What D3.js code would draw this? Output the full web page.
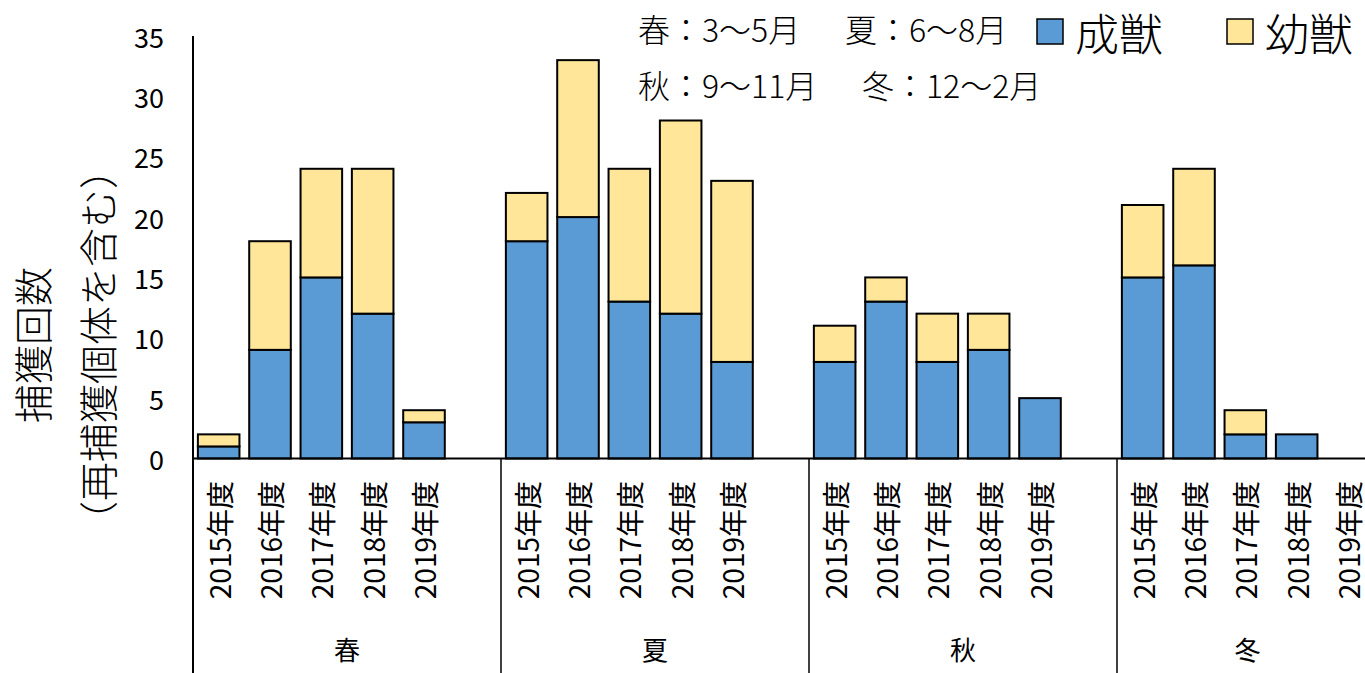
<!DOCTYPE html>
<html>
<head>
<meta charset="utf-8">
<script src="https://cdn.jsdelivr.net/npm/d3@7/dist/d3.min.js"></script>
<style>
  html, body { margin: 0; padding: 0; background: #fff; }
  svg { display: block; font-family: "Noto Sans CJK JP", "Noto Sans", sans-serif; }
</style>
</head>
<body>
<svg id="chart" width="1365" height="673"></svg>
<script>
// Seasons and fiscal years (each season group has one trailing empty slot)
const seasons = ["春", "夏", "秋", "冬"];
const years = ["2015年度", "2016年度", "2017年度", "2018年度", "2019年度"];

// Capture counts per season × year, in the order above
const adults    = [1, 9, 15, 12, 3,   18, 20, 13, 12, 8,   8, 13, 8, 9, 5,   15, 16, 2, 2, 0];
const juveniles = [1, 9, 9, 12, 1,    4, 13, 11, 16, 15,   3, 2, 4, 3, 0,    6, 8, 2, 0, 0];

const seriesNames = ["成獣", "幼獣"];
const seriesColors = ["#5B9BD5", "#FFE699"];
const yTicks = [0, 5, 10, 15, 20, 25, 30, 35];

const seasonNotes = [
  ["春：3～5月", "夏：6～8月"],
  ["秋：9～11月", "冬：12～2月"]
];
const yTitle = ["捕獲回数", "（再捕獲個体を含む）"];

// Layout
const W = 1365, H = 673;
const plotLeft = 193, plotTop = 36, baseY = 458.5;
const groupWidth = 308;
const plotRight = 1378;

const svg = d3.select("#chart");

// Slot keys: season|year, plus a blank slot after each season's years
const slotKeys = [];
seasons.forEach(s => {
  years.forEach(y => slotKeys.push(s + "|" + y));
  slotKeys.push(s + "|");
});

const x = d3.scaleBand()
  .domain(slotKeys)
  .range([plotLeft, plotLeft + groupWidth * seasons.length])
  .padding(0);

const y = d3.scaleLinear().domain([0, 35]).range([baseY, plotTop]);

// Table of rows for stacking
const rows = [];
seasons.forEach((s, si) => {
  years.forEach((yr, yi) => {
    const i = si * years.length + yi;
    rows.push({ key: s + "|" + yr, adult: adults[i], juvenile: juveniles[i] });
  });
});

const stack = d3.stack().keys(["adult", "juvenile"]);
const stacked = stack(rows);

const barW = x.bandwidth() * 0.81;

svg.append("g").selectAll("g")
  .data(stacked)
  .join("g")
  .attr("fill", (d, i) => seriesColors[i])
  .selectAll("rect")
  .data(d => d.filter(v => v[1] - v[0] > 0))
  .join("rect")
  .attr("x", d => x(d.data.key) + (x.bandwidth() - barW) / 2)
  .attr("y", d => y(d[1]))
  .attr("width", barW)
  .attr("height", d => y(d[0]) - y(d[1]))
  .attr("stroke", "#000")
  .attr("stroke-width", 2);

// Y axis tick labels
svg.append("g").selectAll("text")
  .data(yTicks)
  .join("text")
  .attr("x", 164)
  .attr("y", d => y(d))
  .attr("text-anchor", "end")
  .attr("dominant-baseline", "central")
  .attr("font-size", 27)
  .attr("fill", "#000")
  .text(d => d);

// Axis lines
svg.append("line")
  .attr("x1", plotLeft).attr("x2", plotLeft)
  .attr("y1", plotTop).attr("y2", H)
  .attr("stroke", "#000").attr("stroke-width", 2);
svg.append("line")
  .attr("x1", plotLeft).attr("x2", x.range()[1])
  .attr("y1", baseY).attr("y2", baseY)
  .attr("stroke", "#000").attr("stroke-width", 2);

// Group separators
svg.append("g").selectAll("line")
  .data(seasons.slice(1))
  .join("line")
  .attr("x1", s => x(s + "|" + years[0]))
  .attr("x2", s => x(s + "|" + years[0]))
  .attr("y1", baseY).attr("y2", H)
  .attr("stroke", "#000").attr("stroke-width", 1.5);

// Year labels (rotated)
svg.append("g").selectAll("text")
  .data(rows)
  .join("text")
  .attr("transform", d => `translate(${x(d.key) + x.bandwidth() / 2},481) rotate(-90)`)
  .attr("text-anchor", "end")
  .attr("dominant-baseline", "central")
  .attr("font-size", 28)
  .attr("fill", "#000")
  .text(d => d.key.split("|")[1]);

// Season labels, centred in the visible part of each group
svg.append("g").selectAll("text")
  .data(seasons)
  .join("text")
  .attr("x", s => {
    const x0 = x(s + "|" + years[0]);
    const x1 = Math.min(x0 + groupWidth, plotRight);
    return (x0 + x1) / 2;
  })
  .attr("y", 648)
  .attr("text-anchor", "middle")
  .attr("dominant-baseline", "central")
  .attr("font-size", 26)
  .attr("fill", "#000")
  .text(s => s);

// Y axis title (two rotated lines)
svg.append("g").selectAll("text")
  .data(yTitle)
  .join("text")
  .attr("transform", (d, i) => `translate(${i === 0 ? 31 : 96},345) rotate(-90)`)
  .attr("text-anchor", "middle")
  .attr("dominant-baseline", "central")
  .attr("font-size", 39)
  .attr("font-weight", 300)
  .attr("fill", "#000")
  .text(d => d);

// Season month notes
const noteX = [[638, 845], [638, 862]];
const noteY = [28, 84];
seasonNotes.forEach((line, li) => {
  line.forEach((t, ti) => {
    svg.append("text")
      .attr("x", noteX[li][ti])
      .attr("y", noteY[li])
      .attr("dominant-baseline", "central")
      .attr("font-size", 32)
      .attr("font-weight", 300)
      .attr("fill", "#000")
      .text(t);
  });
});

// Legend
const legendX = [1037, 1227];
const legend = svg.append("g").selectAll("g")
  .data(seriesNames)
  .join("g")
  .attr("transform", (d, i) => `translate(${legendX[i]},19)`);
legend.append("rect")
  .attr("width", 26).attr("height", 25)
  .attr("fill", (d, i) => seriesColors[i])
  .attr("stroke", "#000").attr("stroke-width", 1.5);
legend.append("text")
  .attr("x", 38)
  .attr("y", 13)
  .attr("dominant-baseline", "central")
  .attr("font-size", 44)
  .attr("font-weight", 300)
  .attr("fill", "#000")
  .text(d => d);
</script>
</body>
</html>
